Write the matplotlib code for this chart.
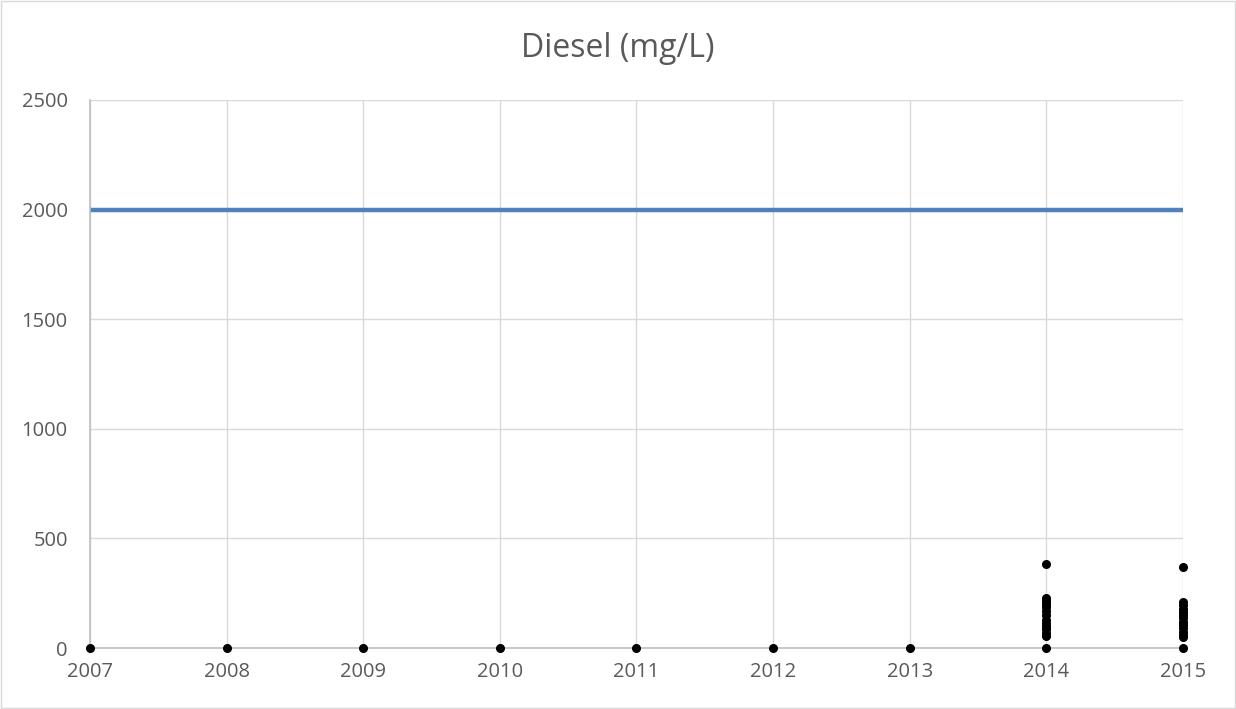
import matplotlib
matplotlib.use("Agg")
import matplotlib.pyplot as plt
from matplotlib.patches import Rectangle

# data
years = [2007, 2008, 2009, 2010, 2011, 2012, 2013]
limit_years = [2007, 2015]
limit_values = [2000, 2000]
samples_2014 = [0, 55, 70, 85, 100, 115, 130, 150, 170, 185, 200, 215, 230, 383]
samples_2015 = [0, 50, 60, 75, 90, 105, 120, 135, 150, 165, 180, 195, 210, 370]
y_ticks = [0, 500, 1000, 1500, 2000, 2500]

plt.rcParams["font.family"] = ["Open Sans", "DejaVu Sans"]

fig = plt.figure(figsize=(12.36, 7.09), dpi=100)
ax = fig.add_axes([0.0728, 0.086, 0.8842, 0.773])

ax.plot(limit_years, limit_values, color="#4f81bd", linewidth=3.2, zorder=2)

xs = years + [2014] * len(samples_2014) + [2015] * len(samples_2015)
ys = [0] * len(years) + samples_2014 + samples_2015
ax.plot(xs, ys, "o", color="black", markersize=5.5, linestyle="none", zorder=3, clip_on=False)

ax.set_xlim(2007, 2015)
ax.set_ylim(0, 2500)
ax.set_xticks(range(2007, 2016))
ax.set_yticks(y_ticks)
ax.grid(True, color="#d9d9d9", linewidth=1)
ax.set_axisbelow(True)
for side in ["top", "right"]:
    ax.spines[side].set_visible(False)
for side in ["left", "bottom"]:
    ax.spines[side].set_color("#bfbfbf")
    ax.spines[side].set_linewidth(1.2)
ax.tick_params(length=0, labelsize=14.5, colors="#595959")
ax.tick_params(axis="y", pad=16)
ax.tick_params(axis="x", pad=10)

fig.text(0.5, 0.932, "Diesel (mg/L)", ha="center", va="center", fontsize=23, color="#595959")

fig.patches.append(Rectangle((0.001, 0.001), 0.998, 0.997, transform=fig.transFigure,
                             fill=False, edgecolor="#d9d9d9", linewidth=1))

fig.savefig("out.png", dpi=100)
